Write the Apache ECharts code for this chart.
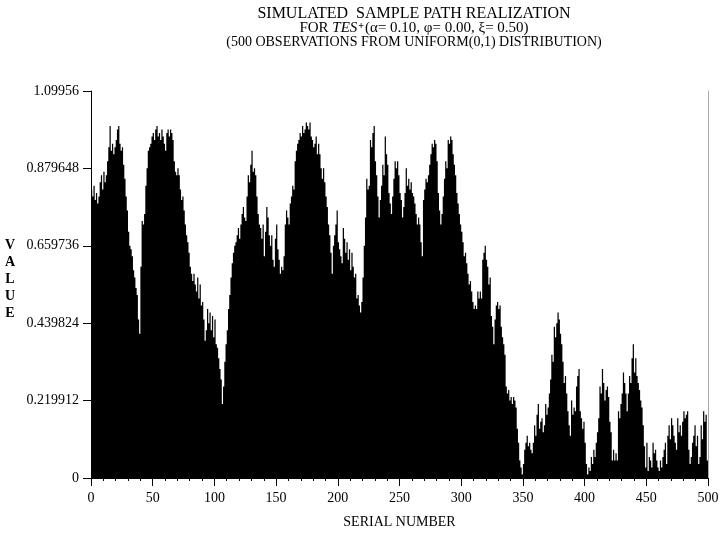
<!DOCTYPE html>
<html>
<head>
<meta charset="utf-8">
<script src="https://cdn.jsdelivr.net/npm/echarts@6/dist/echarts.min.js"></script>
<style>html,body{margin:0;padding:0;background:#fff}#c{width:725px;height:539px}</style>
</head>
<body>
<div id="c"></div>
<script>
const values = [
0.82,0.80,0.83,0.79,0.81,0.78,0.80,0.84,0.86,0.82,
0.87,0.84,0.86,0.90,0.94,1.00,0.93,0.95,0.92,0.94,
0.96,0.99,1.00,0.95,0.93,0.94,0.89,0.85,0.80,0.76,
0.70,0.66,0.65,0.63,0.59,0.57,0.54,0.52,0.45,0.41,
0.60,0.73,0.72,0.75,0.83,0.88,0.93,0.94,0.95,0.97,
0.98,0.96,0.99,1.00,0.97,0.98,0.96,0.99,0.97,0.95,
0.93,0.98,0.99,0.97,0.99,0.98,0.96,0.90,0.87,0.86,
0.88,0.86,0.82,0.79,0.80,0.76,0.72,0.69,0.67,0.64,
0.60,0.58,0.56,0.58,0.55,0.53,0.57,0.51,0.55,0.49,
0.50,0.45,0.39,0.42,0.48,0.44,0.47,0.42,0.46,0.40,
0.45,0.38,0.37,0.34,0.31,0.28,0.21,0.26,0.33,0.38,
0.42,0.48,0.52,0.57,0.61,0.64,0.66,0.67,0.69,0.71,
0.68,0.72,0.75,0.77,0.74,0.73,0.80,0.86,0.84,0.89,
0.93,0.87,0.88,0.86,0.80,0.75,0.72,0.71,0.68,0.72,
0.63,0.70,0.77,0.74,0.69,0.66,0.69,0.62,0.60,0.68,
0.72,0.65,0.62,0.58,0.60,0.59,0.63,0.72,0.76,0.74,
0.72,0.78,0.80,0.83,0.82,0.90,0.93,0.95,0.96,0.98,
0.97,1.00,0.98,0.99,1.01,1.00,0.99,1.01,0.97,0.96,
0.94,0.95,0.97,0.92,0.95,0.92,0.88,0.85,0.88,0.84,
0.80,0.77,0.72,0.69,0.64,0.58,0.66,0.69,0.72,0.76,
0.67,0.65,0.63,0.61,0.71,0.68,0.64,0.67,0.62,0.65,
0.59,0.64,0.60,0.57,0.58,0.51,0.52,0.49,0.47,0.50,
0.57,0.66,0.74,0.85,0.82,0.83,0.96,0.94,0.98,1.00,
0.90,0.86,0.80,0.74,0.79,0.83,0.89,0.86,0.97,0.92,
0.89,0.81,0.78,0.75,0.80,0.85,0.90,0.88,0.90,0.86,
0.81,0.79,0.74,0.77,0.81,0.88,0.83,0.85,0.82,0.84,
0.81,0.80,0.78,0.75,0.72,0.74,0.72,0.67,0.63,0.79,
0.82,0.85,0.84,0.86,0.89,0.92,0.95,0.94,0.96,0.95,
0.90,0.81,0.76,0.72,0.75,0.80,0.85,0.90,0.88,0.96,
0.95,0.97,0.96,0.92,0.89,0.86,0.81,0.78,0.75,0.72,
0.70,0.67,0.63,0.64,0.61,0.58,0.55,0.56,0.53,0.50,
0.48,0.49,0.48,0.53,0.51,0.53,0.51,0.62,0.64,0.66,
0.62,0.60,0.55,0.57,0.46,0.43,0.38,0.45,0.49,0.50,
0.48,0.49,0.43,0.40,0.38,0.35,0.26,0.24,0.25,0.22,
0.23,0.21,0.23,0.22,0.20,0.14,0.10,0.05,0.03,0.01,
0.04,0.08,0.10,0.12,0.09,0.10,0.08,0.07,0.10,0.15,
0.12,0.18,0.21,0.14,0.16,0.17,0.13,0.15,0.21,0.18,
0.20,0.24,0.28,0.35,0.33,0.43,0.40,0.44,0.47,0.45,
0.41,0.38,0.33,0.27,0.29,0.24,0.19,0.15,0.12,0.22,
0.18,0.20,0.19,0.26,0.29,0.31,0.19,0.17,0.14,0.16,
0.10,0.04,0.01,0.03,0.02,0.06,0.04,0.08,0.06,0.10,
0.13,0.17,0.26,0.24,0.31,0.27,0.22,0.25,0.26,0.23,
0.16,0.13,0.05,0.08,0.05,0.07,0.05,0.19,0.17,0.21,
0.24,0.30,0.27,0.24,0.19,0.24,0.29,0.27,0.34,0.38,
0.30,0.34,0.29,0.27,0.25,0.22,0.20,0.15,0.09,0.03,
0.10,0.02,0.06,0.05,0.03,0.10,0.07,0.08,0.05,0.03,
0.02,0.05,0.03,0.06,0.08,0.10,0.04,0.12,0.15,0.11,
0.17,0.15,0.12,0.10,0.08,0.17,0.13,0.15,0.12,0.16,
0.19,0.17,0.18,0.19,0.08,0.04,0.06,0.10,0.12,0.15,
0.09,0.12,0.04,0.06,0.15,0.11,0.19,0.16,0.18,0.05
];
const serials = values.map((v, k) => String(k + 1));
const yTickLabels = ['0', '0.219912', '0.439824', '0.659736', '0.879648', '1.09956'];
const yStep = 0.219912;
const yMax = 1.09956;
const xTickLabels = ['0','50','100','150','200','250','300','350','400','450','500'];
const yAxisTitle = 'V\nA\nL\nU\nE';

const FONT = '"Liberation Serif", "DejaVu Serif", serif';
const chart = echarts.init(document.getElementById('c'), null, {renderer: 'canvas'});
chart.setOption({
  animation: false,
  backgroundColor: '#fff',
  textStyle: {fontFamily: FONT, color: '#000'},
  graphic: [{
    type: 'text', x: 414, y: 7,
    style: {
      text: '{a|SIMULATED  SAMPLE PATH REALIZATION}\n{n|FOR }{i|TES}{s|+}{n|(α= 0.10, φ= 0.00, ξ= 0.50)}\n{c|(500 OBSERVATIONS FROM UNIFORM(0,1) DISTRIBUTION)}',
      align: 'center',
      verticalAlign: 'top',
      fill: '#000',
      font: '15px ' + FONT,
      rich: {
        a: {fontFamily: FONT, fontSize: 16, lineHeight: 14, fill: '#000'},
        n: {fontFamily: FONT, fontSize: 15, lineHeight: 14, fill: '#000'},
        c: {fontFamily: FONT, fontSize: 14, lineHeight: 14, fill: '#000'},
        i: {fontFamily: FONT, fontSize: 15, fontStyle: 'italic', lineHeight: 14, fill: '#000'},
        s: {fontFamily: FONT, fontSize: 10, fontWeight: 'bold', lineHeight: 14, verticalAlign: 'top', padding: [0, 1, 7, 1], fill: '#000'}
      }
    }
  }, {
    type: 'text', x: 10, y: 279,
    style: {
      text: yAxisTitle,
      align: 'center',
      verticalAlign: 'middle',
      fill: '#000',
      font: 'bold 14px ' + FONT,
      lineHeight: 17
    }
  }],
  grid: {left: 91, right: 17, top: 91, bottom: 61, containLabel: false},
  xAxis: [{
    type: 'category', data: serials, position: 'bottom', boundaryGap: true,
    show: false
  }, {
    type: 'value', min: 0, max: 500, interval: 50, position: 'bottom',
    name: 'SERIAL NUMBER', nameLocation: 'middle', nameGap: 37,
    nameTextStyle: {fontFamily: FONT, fontSize: 14, color: '#000'},
    axisLine: {lineStyle: {color: '#000', width: 1}},
    axisTick: {show: true, length: 8, lineStyle: {color: '#000'}},
    minorTick: {show: true, splitNumber: 5, length: 3, lineStyle: {color: '#000'}},
    axisLabel: {
      margin: 13, fontFamily: FONT, fontSize: 14, color: '#000',
      formatter: v => xTickLabels[Math.round(v / 50)]
    },
    splitLine: {show: false}
  }],
  yAxis: [{
    type: 'value', min: 0, max: yMax, interval: yStep,
    axisLine: {show: true, lineStyle: {color: '#000', width: 1}},
    axisTick: {show: true, length: 8, lineStyle: {color: '#000'}},
    axisLabel: {
      margin: 12, fontFamily: FONT, fontSize: 14, color: '#000',
      formatter: v => yTickLabels[Math.round(v / yStep)]
    },
    splitLine: {show: false}
  }, {
    type: 'value', min: 0, max: yMax, position: 'right',
    axisLine: {show: true, lineStyle: {color: '#aaa', width: 1}},
    axisTick: {show: false}, axisLabel: {show: false}, splitLine: {show: false}
  }],
  series: [{
    type: 'bar',
    xAxisIndex: 0, yAxisIndex: 0,
    data: values,
    barCategoryGap: '0%',
    large: true,
    largeThreshold: 100,
    itemStyle: {color: '#000'}
  }]
});
</script>
</body>
</html>
